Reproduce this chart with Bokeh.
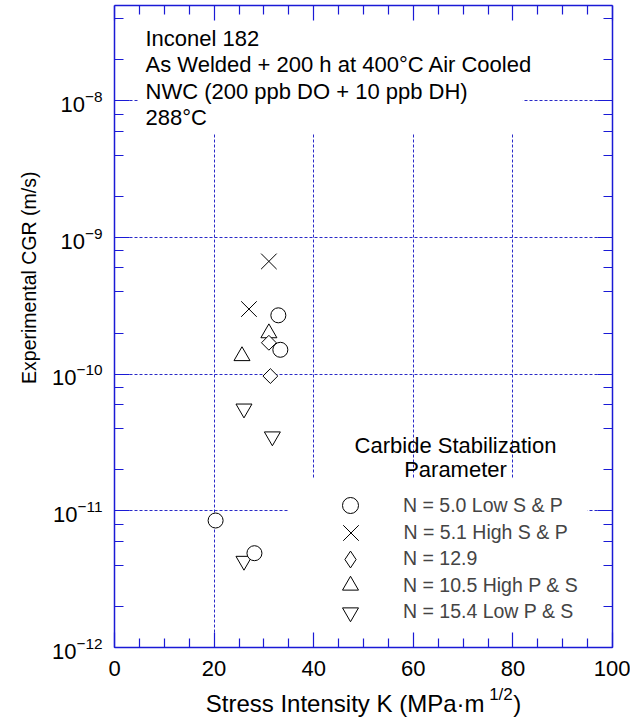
import numpy as np
from bokeh.plotting import figure
from bokeh.models import (LinearAxis, LogAxis, Label, Legend, LegendItem,
                          BoxAnnotation, FixedTicker, LogTicker,
                          CustomJSTickFormatter, Range1d)
from bokeh.embed import file_html
from bokeh.resources import INLINE

# ---------------- data ----------------
k_n50 = [32.9, 33.3, 20.3, 28.1]
cgr_n50 = [2.7e-10, 1.51e-10, 8.5e-12, 4.9e-12]
k_n51 = [31.0, 27.0]
cgr_n51 = [6.7e-10, 3.0e-10]
k_n129 = [31.0, 31.3]
cgr_n129 = [1.7e-10, 9.7e-11]
k_n105 = [31.0, 25.6]
cgr_n105 = [2.0e-10, 1.36e-10]
k_n154 = [26.0, 31.7, 26.0]
cgr_n154 = [5.6e-11, 3.5e-11, 4.3e-12]

series_labels = ["N = 5.0 Low S & P", "N = 5.1 High S & P", "N = 12.9",
                 "N = 10.5 High P & S", "N = 15.4 Low P & S"]
x_ticks = [0, 20, 40, 60, 80, 100]
x_minor = [v for v in range(0, 101, 5) if v % 20 != 0]
info_lines = ["Inconel 182", "As Welded + 200 h at 400°C Air Cooled",
              "NWC (200 ppb DO + 10 ppb DH)", "288°C"]
legend_title = ["Carbide Stabilization", "Parameter"]
x_title = "Stress Intensity K (MPa·m\u2002\u2002\u2009)"
x_title_sup = "1/2"
y_title = "\u2003\u2003\u2003\u2003\u2003Experimental CGR (m/s)"

FONT = "Liberation Sans"
BLUE = "#1a1ad6"
GRID = "#2a2ac8"

p = figure(width=630, height=727, output_backend="svg", toolbar_location=None,
           y_axis_type="log", x_range=Range1d(0, 100), y_range=Range1d(1e-12, 5e-8),
           min_border_left=114, min_border_right=18, min_border_top=5,
           min_border_bottom=80, outline_line_color=None)

# grid
p.xgrid.ticker = FixedTicker(ticks=x_ticks)
p.ygrid.ticker = LogTicker()
for g in (p.xgrid, p.ygrid):
    g.grid_line_color = GRID
    g.grid_line_dash = "3 2"
    g.grid_line_width = 1

# white boxes masking the grid behind text blocks
p.add_layout(BoxAnnotation(left=4.8, right=82, bottom=5.74e-9, top=5e-8,
                           fill_color="white", fill_alpha=1, line_alpha=0,
                           level="underlay"))
p.add_layout(BoxAnnotation(left=34.9, right=95, bottom=1.12e-12, top=1.73e-11,
                           fill_color="white", fill_alpha=1, line_alpha=0,
                           level="underlay"))

def style_axis(ax):
    ax.axis_line_color = BLUE
    ax.axis_line_width = 1.5
    ax.major_tick_line_color = BLUE
    ax.minor_tick_line_color = BLUE
    ax.major_tick_in = 15
    ax.major_tick_out = 0
    ax.minor_tick_in = 9
    ax.minor_tick_out = 0
    ax.major_tick_line_width = 1.2
    ax.minor_tick_line_width = 1.2

# bottom axis
xa = p.xaxis[0]
xa.ticker = FixedTicker(ticks=x_ticks, minor_ticks=x_minor)
style_axis(xa)
xa.major_label_text_font = FONT
xa.major_label_text_font_size = "22px"
xa.major_label_text_color = "black"
xa.major_label_standoff = 13

# second below axis carrying the x title with its superscript
xt = LinearAxis(ticker=FixedTicker(ticks=[77.6], minor_ticks=[]),
                formatter=CustomJSTickFormatter(code="return '%s'" % x_title_sup),
                axis_line_color=None, major_tick_line_color=None,
                minor_tick_line_color=None, major_tick_in=0, major_tick_out=0,
                minor_tick_in=0, minor_tick_out=0, major_label_standoff=6,
                major_label_text_font=FONT, major_label_text_font_size="17px",
                major_label_text_color="black",
                axis_label=x_title, axis_label_text_font=FONT,
                axis_label_text_font_size="24px", axis_label_text_font_style="normal",
                axis_label_text_color="black", axis_label_standoff=-17)
p.add_layout(xt, "below")

# left axis
ya = p.yaxis[0]
ya.ticker = LogTicker()
style_axis(ya)
ya.major_label_text_font = FONT
ya.major_label_text_font_size = "22px"
ya.major_label_text_color = "black"
ya.major_label_standoff = 12
ya.axis_label = y_title
ya.axis_label_text_font = FONT
ya.axis_label_text_font_size = "19.5px"
ya.axis_label_text_font_style = "normal"
ya.axis_label_text_color = "black"
ya.axis_label_standoff = 9

blank = CustomJSTickFormatter(code="return ''")
top = LinearAxis(ticker=FixedTicker(ticks=x_ticks, minor_ticks=x_minor), formatter=blank,
                 major_label_standoff=0)
style_axis(top)
p.add_layout(top, "above")
right = LogAxis(ticker=LogTicker(), formatter=blank, major_label_standoff=0)
style_axis(right)
p.add_layout(right, "right")

# data markers
common = dict(line_color="black", line_width=1, fill_color="white")
r51 = p.scatter(k_n51, cgr_n51, marker="x", size=22, line_color="black", line_width=1)
r105 = p.scatter(k_n105, cgr_n105, marker="triangle", size=16, **common)
r154 = p.scatter(k_n154, cgr_n154, marker="inverted_triangle", size=16, **common)
r129 = p.scatter(k_n129, cgr_n129, marker="square", angle=np.pi / 4, size=10.5, **common)
r50 = p.scatter(k_n50, cgr_n50, marker="circle", size=15, **common)
# hidden twin of the N = 12.9 series, used only so its legend key is a diamond
r129_key = p.scatter(k_n129, cgr_n129, marker="diamond", size=16, visible=False, **common)

# one legend block per series so each key keeps its marker size
legend_rows = [(series_labels[0], r50, 40),
               (series_labels[1], r51, 55),
               (series_labels[2], r129_key, 42),
               (series_labels[3], r105, 40),
               (series_labels[4], r154, 40)]
key_x, text_x = 350, 403
row_y = [505, 532, 558.5, 585, 611.5]
for (lab, rend, g), cy in zip(legend_rows, row_y):
    p.add_layout(Legend(items=[LegendItem(label=lab, renderers=[rend])],
                        location=(key_x - 114 - g / 2, 647 - cy - g / 2),
                        background_fill_alpha=0, border_line_alpha=0,
                        inactive_fill_alpha=0,
                        label_text_font=FONT, label_text_font_size="19.5px",
                        glyph_width=g, glyph_height=g, label_height=20,
                        label_standoff=int(round(text_x - key_x - g / 2)),
                        padding=0, margin=0, spacing=0, click_policy="none"))

# info text
for i, line in enumerate(info_lines):
    p.add_layout(Label(x=31, y=647 - 38 - 26.3 * i, x_units="screen", y_units="screen",
                       text=line, text_font=FONT, text_font_size="22px",
                       text_color="black", text_baseline="middle"))

# legend title
for i, line in enumerate(legend_title):
    p.add_layout(Label(x=341, y=647 - 445 - 24 * i, x_units="screen", y_units="screen",
                       text=line, text_font=FONT, text_font_size="22px",
                       text_color="black", text_align="center",
                       text_baseline="middle"))

open("out.html", "w").write(file_html(p, INLINE))
